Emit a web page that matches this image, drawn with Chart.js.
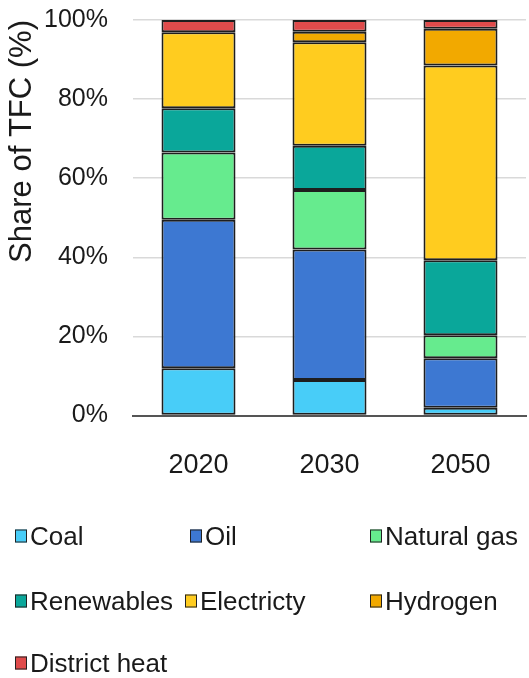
<!DOCTYPE html>
<html>
<head>
<meta charset="utf-8">
<script src="https://cdn.jsdelivr.net/npm/chart.js@4"></script>
<style>
  html, body { margin: 0; padding: 0; background: #fff; }
  #wrap { position: relative; width: 529px; height: 678px; }
  #legend { position: absolute; left: 0; top: 0; width: 529px; height: 678px; pointer-events: none;
            font-family: "Liberation Sans", Arial, sans-serif; font-size: 26px; color: #1a1a1a; }
  .li { position: absolute; display: flex; align-items: center; white-space: nowrap; transform: translateY(-50%); }
  .box { width: 10px; height: 11px; border: 1.5px solid #222; margin-right: 3px; }
</style>
</head>
<body>
<div id="wrap">
  <canvas id="c" width="529" height="678"></canvas>
  <div id="legend"></div>
</div>
<script>
const categories = ["2020", "2030", "2050"];
const seriesNames = ["Coal", "Oil", "Natural gas", "Renewables", "Electricty", "Hydrogen", "District heat"];
const coal        = [12.0, 9.0, 2.0];
const oil         = [37.5, 33.0, 12.5];
const naturalGas  = [17.0, 15.0, 5.8];
const renewables  = [11.2, 11.2, 19.0];
const electricity = [19.2, 26.2, 49.2];
const hydrogen    = [0.0, 2.6, 9.3];
const districtHeat= [3.1, 3.0, 2.2];
const yTicks = [0, 20, 40, 60, 80, 100];

const seriesValues = [coal, oil, naturalGas, renewables, electricity, hydrogen, districtHeat];
const colors = ["#48CDF8", "#3D78D2", "#66EB8E", "#0AA79A", "#FFCC1F", "#F2A900", "#E04B4B"];

const datasets = seriesNames.map((name, i) => ({
  label: name,
  data: seriesValues[i],
  backgroundColor: colors[i],
  borderColor: "#1e1e1e",
  borderWidth: 2,
  borderSkipped: false,
  categoryPercentage: 1.0,
  barPercentage: 0.565
}));

const FONT = "'Liberation Sans', Arial, sans-serif";

const chart = new Chart(document.getElementById("c"), {
  type: "bar",
  data: { labels: categories, datasets },
  options: {
    responsive: false,
    animation: false,
    devicePixelRatio: 1,
    layout: { padding: { top: 0, right: 3, left: 10, bottom: 162 } },
    plugins: { legend: { display: false }, tooltip: { enabled: false } },
    scales: {
      x: {
        stacked: true,
        grid: { display: false, drawTicks: false },
        border: { display: true, color: "#555", width: 2 },
        ticks: { color: "#1a1a1a", font: { family: FONT, size: 27 }, padding: 34 }
      },
      y: {
        stacked: true,
        min: 0, max: 100,
        afterBuildTicks: (s) => { s.ticks = yTicks.map(v => ({ value: v })); },
        afterFit: (s) => { s.paddingTop = 20; s.width = 123; },
        grid: { color: "#d9d9d9", lineWidth: 1.5, drawTicks: false },
        border: { display: false },
        ticks: { color: "#1a1a1a", font: { family: FONT, size: 25 }, padding: 25,
                 callback: (v) => v + "%" },
        title: { display: true, text: "Share of TFC (%)", align: "end", color: "#1a1a1a",
                 font: { family: FONT, size: 31, lineHeight: 0.8 }, padding: { top: 0, bottom: 0 } }
      }
    }
  }
});

// HTML legend built from the chart's datasets
const legendPos = [[15, 536], [190, 536], [370, 536], [15, 601], [185, 601], [370, 601], [15, 663]];
const lg = document.getElementById("legend");
chart.data.datasets.forEach((ds, i) => {
  const d = document.createElement("div");
  d.className = "li";
  d.style.left = legendPos[i][0] + "px";
  d.style.top = legendPos[i][1] + "px";
  const b = document.createElement("span");
  b.className = "box";
  b.style.background = ds.backgroundColor;
  const t = document.createElement("span");
  t.textContent = ds.label;
  d.appendChild(b); d.appendChild(t);
  lg.appendChild(d);
});
</script>
</body>
</html>
